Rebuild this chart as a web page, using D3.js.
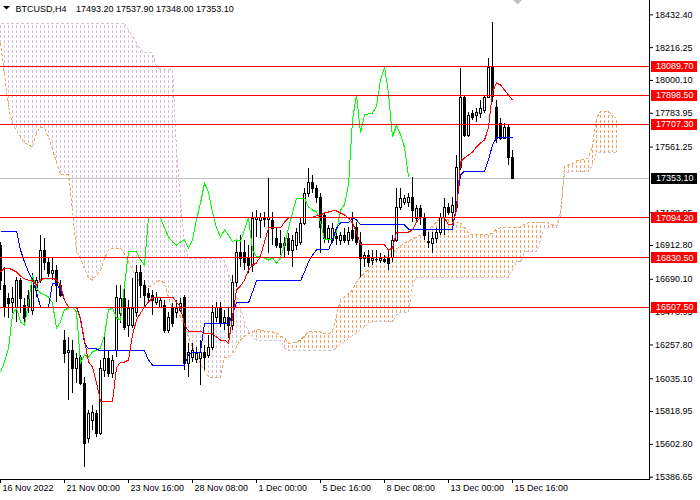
<!DOCTYPE html>
<html>
<head>
<meta charset="utf-8">
<title>BTCUSD,H4</title>
<script src="https://cdn.jsdelivr.net/npm/d3@7"></script>
<style>
body{margin:0;background:#fff;}
#chart{width:700px;height:500px;}
text{font-family:"Liberation Sans",Arial,sans-serif;font-size:9px;}
</style>
</head>
<body>
<div id="chart"></div>
<script>
// chart data
const symbolName="BTCUSD,H4";
const lastQuote=[17493.20,17537.90,17348.00,17353.10];

const opens=[16913,16649,16564,16537,16504,16682,16518,16584,16485,16616,
16682,16880,16801,16728,16748,16649,16287,16208,16221,16103,
16175,16004,15642,15760,15806,15674,16089,16169,16070,16221,
16465,16564,16386,16386,16471,16735,16649,16597,16584,16537,
16504,16518,16353,16498,16471,16485,16570,16136,16175,16162,
16169,16208,16188,16241,16439,16504,16406,16439,16386,16669,
16867,16867,16827,16781,17084,17078,17097,17084,17078,16959,
16926,16913,16959,16880,16913,16933,17058,17255,17328,17288,
17229,17110,16959,16946,16972,16946,16979,16946,17012,17031,
16933,16827,16847,16814,16821,16814,16821,16834,16834,16946,
17163,17196,17196,17229,17091,17157,17097,16939,16926,16959,
16998,17097,17163,17130,17163,17427,17888,17637,17782,17769,
17782,17802,17888,18085,17822,17716,17618,17690,17493.2];
const highs=[16933,16768,16597,16636,16702,16695,16564,16616,16728,16702,
16979,16959,16834,16834,16781,16682,16353,16307,16287,16201,
16188,16043,15826,15859,15826,16155,16307,16221,16188,16649,
16649,16649,16551,16695,16781,16781,16682,16630,16616,16603,
16570,16551,16471,16531,16551,16564,16584,16267,16267,16241,
16287,16254,16320,16518,16537,16537,16485,16498,16715,16946,
16979,16946,16913,17130,17143,17124,17130,17354,17130,17031,
17012,16966,16992,16979,17025,17091,17288,17420,17374,17308,
17255,17130,17045,17058,17025,16998,17025,17031,17130,17064,
16998,16867,16880,16880,16880,16860,16847,16880,16979,17288,
17288,17242,17255,17361,17176,17176,17124,16998,16998,17025,
17124,17222,17189,17229,17506,18079,17901,17789,17802,17815,
17868,17901,18145,18382,17868,17749,17716,17703,17537.9];
const lows=[16616,16439,16432,16465,16406,16465,16386,16465,16452,16570,
16662,16748,16702,16682,16537,16570,16136,15892,15938,16004,
15991,15451,15609,15694,15648,15661,16043,16043,16037,16175,
16399,16353,16307,16366,16439,16564,16504,16537,16452,16518,
16498,16333,16333,16373,16432,16471,16089,16043,16142,16136,
15991,16089,16169,16221,16406,16373,16353,16300,16353,16636,
16768,16748,16728,16735,16966,16959,17031,16860,16913,16893,
16847,16834,16847,16768,16880,16913,17045,17229,17255,17189,
16860,16926,16926,16926,16913,16913,16926,16913,16939,16913,
16702,16768,16768,16781,16801,16794,16794,16748,16801,16933,
17143,17176,17163,17064,17064,17045,16946,16893,16860,16926,
16979,16979,17110,17064,17143,17407,17624,17624,17736,17723,
17749,17782,17881,17855,17585,17604,17618,17440,17348.0];
const closes=[16682,16504,16531,16564,16682,16564,16432,16504,16682,16682,
16880,16801,16728,16748,16649,16584,16201,16221,16103,16169,
16004,15609,15806,15813,15674,16103,16169,16070,16155,16570,
16564,16373,16498,16498,16735,16649,16584,16570,16551,16570,
16551,16353,16439,16399,16498,16531,16136,16208,16221,16201,
16208,16175,16241,16471,16504,16406,16439,16386,16669,16867,
16827,16801,16781,17091,17097,17097,17084,17097,17025,16913,
16900,16926,16880,16946,16998,17058,17255,17328,17288,17229,
17031,16959,17025,17025,16959,16979,16946,16998,16959,16933,
16827,16847,16801,16827,16818,16827,16807,16794,16946,17163,
17222,17222,17229,17143,17157,17097,16979,16933,16959,16998,
17097,17163,17130,17176,17427,17888,17637,17769,17756,17789,
17815,17888,18085,17895,17618,17618,17690,17493,17353.1];

// Ichimoku lines as drawn on the chart
const tenkan=[16735,16761,16761,16748,16735,16709,16689,16682,16676,16649,
16682,16695,16695,16695,16682,16649,16551,16504,16504,16504,
16419,16287,16142,16109,16004,15885,15885,15885,15885,16103,
16142,16142,16155,16320,16419,16465,16504,16537,16564,16570,
16570,16570,16570,16570,16537,16504,16386,16346,16346,16346,
16346,16327,16327,16327,16307,16287,16287,16267,16432,16616,
16643,16682,16748,16781,16794,16840,16933,17025,17025,17025,
17025,17064,17091,17091,17091,17091,17091,17097,17097,17104,
17110,17124,17130,17137,17137,17124,17110,17091,17058,16998,
16913,16913,16913,16913,16913,16913,16913,16880,16893,16998,
16998,16998,16998,17012,17064,17097,17097,17097,17097,17097,
17097,17091,17045,17045,17143,17460,17486,17506,17525,17558,
17585,17604,17684,17921,17980,17967,17934,17901,17868];
const kijun=[17005,17005,17005,17005,17005,16880,16801,16735,16682,16603,
16504,16504,16504,16662,16662,16616,16551,16504,16504,16504,
16432,16267,16228,16228,16228,16215,16215,16215,16215,16215,
16215,16215,16215,16215,16215,16215,16215,16155,16122,16122,
16122,16122,16122,16122,16122,16122,16122,16188,16208,16208,
16208,16393,16393,16393,16393,16393,16393,16393,16452,16531,
16531,16531,16531,16603,16676,16676,16676,16676,16676,16676,
16676,16676,16676,16676,16676,16676,16735,16801,16847,16880,
16880,16880,16880,16946,17025,17058,17058,17058,17091,17078,
17045,17045,17045,17045,17045,17045,17045,17045,17045,17045,
17045,17045,17018,17018,17018,17018,17018,17018,17018,17018,
17018,17018,17018,17018,17176,17374,17400,17400,17400,17400,
17400,17400,17473,17572,17618,17618,17618,17618,17618];
const chikou=[16076,16142,16234,16452,16498,16406,16386,16531,16715,16630,
16597,16584,16570,16531,16366,16406,16485,16498,16504,16471,
16136,16188,16175,16208,16221,16234,16320,16485,16498,16432,
16419,16649,16867,16867,16867,16814,16781,17097,17097,17097,
17091,17025,16966,16933,16913,16933,16946,16893,16946,17078,
17189,17321,17262,17130,17025,16966,17012,16979,16933,16946,
16939,17012,17091,16880,16834,16834,16827,16814,16827,16794,
16827,16913,17025,17124,17222,17222,17222,17163,17143,17130,
17064,16946,16946,16946,16998,17143,17176,17308,17736,17901,
17651,17769,17776,17782,17828,18000,18085,17914,17624,17703,
17640,17558,17361];
const spanA=[18243,18033,17822,17703,17670,17624,17585,17572,17558,17651,
17690,17684,17624,17539,17460,17374,17374,17374,17143,16867,
16827,16755,16695,16682,16715,16748,16821,16880,16893,16893,
16893,16854,16801,16748,16702,16662,16636,16636,16649,16669,
16682,16656,16570,16485,16465,16439,16373,16307,16241,16188,
16129,16083,16043,16043,16043,16043,16169,16175,16195,16241,
16287,16313,16327,16340,16353,16353,16346,16340,16340,16333,
16313,16300,16267,16267,16274,16287,16313,16340,16340,16340,
16340,16327,16327,16346,16452,16551,16570,16590,16616,16669,
16702,16728,16755,16794,16814,16821,16834,16840,16860,16886,
16906,16926,16939,16952,16966,16979,16998,17018,17038,17064,
17091,17084,17078,17071,17064,17058,17025,16992,16979,16979,
16979,16979,16979,16992,17018,17025,17025,17025,17025,17031,
17031,17051,17058,17064,17064,17064,17058,17058,17045,17031,
17097,17427,17440,17446,17466,17473,17479,17486,17572,17749,
17795,17795,17795,17756,17749];
const spanB=[18375,18375,18375,18375,18375,18375,18375,18375,18375,18375,
18375,18375,18375,18375,18375,18375,18375,18375,18375,18375,
18375,18375,18375,18375,18375,18375,18375,18375,18375,18375,
18375,18375,18329,18290,18243,18197,18178,18178,18178,18085,
18072,18072,18072,18072,17539,17209,16913,16827,16827,16827,
16827,16827,16827,16827,16827,16827,16807,16728,16643,16570,
16504,16399,16346,16307,16287,16287,16287,16287,16287,16287,
16287,16234,16221,16221,16221,16221,16221,16221,16221,16221,
16221,16221,16221,16221,16234,16254,16274,16294,16313,16333,
16353,16373,16393,16406,16406,16406,16406,16406,16406,16452,
16471,16471,16471,16649,16702,16702,16702,16702,16702,16702,
16702,16702,16702,16702,16702,16702,16702,16702,16702,16702,
16702,16702,16702,16702,16702,16702,16702,16702,16748,16801,
16801,16867,16867,16867,16867,16946,17031,17031,17031,17031,
17143,17374,17394,17394,17394,17394,17394,17394,17440,17525,
17525,17525,17525,17525,17525];

const xTickBars=[0,16,32,48,64,80,96,112,128];
const xTickLabels=["16 Nov 2022","21 Nov 00:00","23 Nov 16:00","28 Nov 08:00","1 Dec 00:00","5 Dec 16:00","8 Dec 08:00","13 Dec 00:00","15 Dec 16:00"];
// the 17345.10 tick sits fully under the bid tag, so it is left out
const yTickValues=[18432.40,18216.25,18000.10,17783.95,17561.25,17128.95,16912.80,16690.10,16473.95,16257.80,16035.10,15818.95,15602.80,15386.65];
const levelPrices=[18089.70,17898.50,17707.30,17094.20,16830.50,16507.50];
const bidPrice=17353.10;

(function(){
    let width=700,height=500;
    let plotRight=649,plotBottom=479;
    let svg=d3.select('#chart').append('svg')
        .attr('width',width).attr('height',height);
    svg.append('rect').attr('width',width).attr('height',height).attr('fill','#fff');

    //one bar every 4 pixels, first bar on the left edge
    let x=d3.scaleLinear().domain([0,1]).range([0,4]);
    let y=d3.scaleLinear().domain([15386.65,18432.40]).range([476.7,14.3]);
    let px=function(i){return Math.round(x(i))+0.5};

    svg.append('defs').append('clipPath').attr('id','plotClip')
        .append('rect').attr('x',0).attr('y',0).attr('width',plotRight).attr('height',plotBottom);
    let plot=svg.append('g').attr('clip-path','url(#plotClip)').attr('shape-rendering','crispEdges');

    //kumo hatch, one dotted column per bar, dots lined up on a 5px grid
    let kumo=plot.append('g');
    spanA.forEach(function(a,i){
        let b=spanB[i];
        let y1=Math.round(y(Math.max(a,b))),y2=Math.round(y(Math.min(a,b)));
        kumo.append('line')
            .attr('x1',px(i)).attr('x2',px(i))
            .attr('y1',y1).attr('y2',y2)
            .attr('stroke',a>=b?'#f4a460':'#d8bfd8')
            .attr('stroke-dasharray','3,2')
            .attr('stroke-dashoffset',y1%5);
    });
    let idxLine=function(values){
        return d3.line().x(function(d,i){return px(i)}).y(function(d){return y(d)})(values);
    };
    plot.append('path').attr('d',idxLine(spanB)).attr('fill','none')
        .attr('stroke','#d8bfd8').attr('stroke-dasharray','3,2');
    plot.append('path').attr('d',idxLine(spanA)).attr('fill','none')
        .attr('stroke','#f4a460').attr('stroke-dasharray','3,2');

    //bid line
    plot.append('line').attr('x1',0).attr('x2',plotRight)
        .attr('y1',Math.round(y(bidPrice))+0.5).attr('y2',Math.round(y(bidPrice))+0.5)
        .attr('stroke','#c0c0c0');

    //candles
    let cg=plot.append('g');
    opens.forEach(function(o,i){
        let c=closes[i];
        cg.append('line').attr('x1',px(i)).attr('x2',px(i))
            .attr('y1',y(highs[i])).attr('y2',y(lows[i])).attr('stroke','#000');
        let top=Math.round(y(Math.max(o,c))),bot=Math.round(y(Math.min(o,c)));
        if (bot-top<1){
            cg.append('line').attr('x1',px(i)-1.5).attr('x2',px(i)+1.5)
                .attr('y1',top+0.5).attr('y2',top+0.5).attr('stroke','#000');
            return;
        }
        cg.append('rect')
            .attr('x',px(i)-1).attr('width',2)
            .attr('y',top+0.5).attr('height',bot-top)
            .attr('fill',c>=o?'#fff':'#000')
            .attr('stroke','#000');
    });

    //indicator lines
    plot.append('path').attr('d',idxLine(chikou)).attr('fill','none').attr('stroke','#00ff00');
    plot.append('path').attr('d',idxLine(kijun)).attr('fill','none').attr('stroke','#0000ff');
    plot.append('path').attr('d',idxLine(tenkan)).attr('fill','none').attr('stroke','#ff0000');

    //horizontal levels
    levelPrices.forEach(function(p){
        let yy=Math.round(y(p));
        plot.append('rect').attr('x',0).attr('width',plotRight)
            .attr('y',yy).attr('height',1.2).attr('fill','#ff0000');
    });

    //title
    svg.append('path').attr('d','M3,6L10,6L6.5,9.5Z').attr('fill','#000');
    svg.append('text').attr('x',15.5).attr('y',12).attr('fill','#000').text(symbolName);
    svg.append('text').attr('x',76).attr('y',12).attr('fill','#000')
        .text(lastQuote.map(function(v){return v.toFixed(2)}).join(' '));
    //chart shift marker
    svg.append('path').attr('d','M513,0L522,0L517.5,4.5Z').attr('fill','#c0c0c0');

    //axes
    let yAxis=svg.append('g').attr('transform','translate('+plotRight+',0)')
        .call(d3.axisRight(y).tickValues(yTickValues).tickSize(4).tickFormat(d3.format('.2f')));
    yAxis.select('.domain').remove();
    yAxis.selectAll('text').attr('font-size',9).attr('font-family','"Liberation Sans",Arial,sans-serif').attr('x',6);
    let xAxis=svg.append('g').attr('transform','translate(0,'+plotBottom+')')
        .call(d3.axisBottom(x).tickValues(xTickBars).tickSize(4).tickFormat(function(d,i){return xTickLabels[i]}));
    xAxis.select('.domain').remove();
    xAxis.selectAll('text').attr('font-size',9).attr('font-family','"Liberation Sans",Arial,sans-serif')
        .attr('text-anchor','start').attr('x',2).attr('y',6);
    svg.append('line').attr('x1',plotRight+0.5).attr('x2',plotRight+0.5).attr('y1',0).attr('y2',plotBottom+0.5)
        .attr('stroke','#000').attr('shape-rendering','crispEdges');
    svg.append('line').attr('x1',0).attr('x2',plotRight+0.5).attr('y1',plotBottom+0.5).attr('y2',plotBottom+0.5)
        .attr('stroke','#000').attr('shape-rendering','crispEdges');

    //price tags on the scale, drawn over the tick labels
    let tags=svg.append('g');
    levelPrices.map(function(p){return {p:p,c:'#ff0000'}})
        .concat([{p:bidPrice,c:'#000'}])
        .forEach(function(t){
            let yy=y(t.p);
            tags.append('rect').attr('x',651).attr('y',Math.round(yy)-5).attr('width',46).attr('height',11).attr('fill',t.c);
            tags.append('text').attr('x',656).attr('y',yy).attr('dy','0.34em').attr('fill','#fff').text(t.p.toFixed(2));
        });
})();
</script>
</body>
</html>
